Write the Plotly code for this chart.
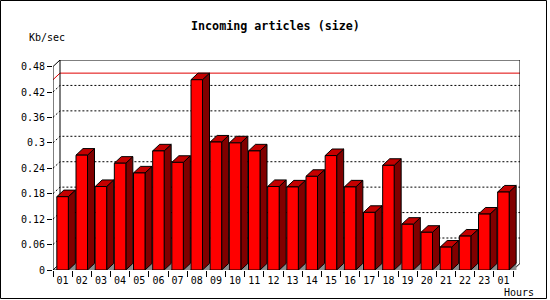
import plotly.graph_objects as go

# ---- data ----
hours = ["01", "02", "03", "04", "05", "06", "07", "08", "09", "10", "11", "12",
         "13", "14", "15", "16", "17", "18", "19", "20", "21", "22", "23", "01"]
kb_per_sec = [0.173, 0.271, 0.197, 0.252, 0.229, 0.281, 0.254, 0.449, 0.302, 0.300, 0.281, 0.197,
              0.196, 0.221, 0.270, 0.196, 0.136, 0.247, 0.108, 0.089, 0.054, 0.080, 0.132, 0.184]
y_ticks = [0, 0.06, 0.12, 0.18, 0.24, 0.3, 0.36, 0.42, 0.48]
y_tick_text = ["0", "0.06", "0.12", "0.18", "0.24", "0.3", "0.36", "0.42", "0.48"]
title_text = "Incoming articles (size)"
y_label = "Kb/sec"
x_label = "Hours"

# ---- geometry (3D depth in data units) ----
N = len(hours)
YMAX = 0.48
DX = 0.365      # depth offset along x (categories)
DY = 0.0155     # depth offset along y (values)
B0, B1 = 0.2, 0.8   # front face extent within category

W, H = 550, 300
ML, MR, MT, MB = 53, 30, 60, 30
PW, PH = W - ML - MR, H - MT - MB


def px_x(p):
    return (p - ML) / PW


def px_y(p):
    return (H - MB - p) / PH


FONT = "DejaVu Sans Mono"
traces = []

# back wall dotted grid lines + left wall diagonals
gx, gy = [], []
for v in y_ticks[1:-1]:
    gx += [0, DX, N + DX, None]
    gy += [v, v + DY, v + DY, None]
traces.append(go.Scatter(x=gx, y=gy, mode="lines",
                         line=dict(color="black", width=1, dash="2px,2px"),
                         hoverinfo="skip", showlegend=False))

# max line (red)
vmax = max(kb_per_sec)
traces.append(go.Scatter(x=[0, DX, N + DX], y=[vmax, vmax + DY, vmax + DY], mode="lines",
                         line=dict(color="#e00000", width=1),
                         hoverinfo="skip", showlegend=False))

# frame
fx = [0, 0, None,
      0, DX, N + DX, N + DX, None,
      DX, DX, None,
      0, DX, None,
      0, N, N + DX]
fy = [0, YMAX, None,
      YMAX, YMAX + DY, YMAX + DY, DY, None,
      DY, YMAX + DY, None,
      0, DY, None,
      0, 0, DY]
traces.append(go.Scatter(x=fx, y=fy, mode="lines",
                         line=dict(color="black", width=1),
                         hoverinfo="skip", showlegend=False))

# bar faces
sh_x, sh_y, sd_x, sd_y, tp_x, tp_y, fr_x, fr_y = [], [], [], [], [], [], [], []
for i, v in enumerate(kb_per_sec):
    x1, x2 = i + B0, i + B1
    sh_x += [x2, x2 + DX, x2 + DX, x2, None]
    sh_y += [0, DY, 0, 0, None]
    sd_x += [x2, x2, x2 + DX, x2 + DX, x2, None]
    sd_y += [0, v, v + DY, DY, 0, None]
    tp_x += [x1, x1 + DX, x2 + DX, x2, x1, None]
    tp_y += [v, v + DY, v + DY, v, v, None]
    fr_x += [x1, x1, x2, x2, x1, None]
    fr_y += [0, v, v, 0, 0, None]

traces.append(go.Scatter(x=sh_x, y=sh_y, mode="lines", fill="toself",
                         fillcolor="#8c8c8c", line=dict(color="#8c8c8c", width=0.5),
                         hoverinfo="skip", showlegend=False))
for xs, ys, col in [(sd_x, sd_y, "#800000"), (tp_x, tp_y, "#c40000"), (fr_x, fr_y, "#ff0000")]:
    traces.append(go.Scatter(x=xs, y=ys, mode="lines", fill="toself",
                             fillcolor=col, line=dict(color="black", width=1),
                             hoverinfo="skip", showlegend=False))

fig = go.Figure(traces)

fig.update_layout(
    width=W, height=H,
    margin=dict(l=ML, r=MR, t=MT, b=MB, pad=0),
    paper_bgcolor="white", plot_bgcolor="white",
    font=dict(family=FONT, size=10, color="black"),
    xaxis=dict(range=[0, N + DX], showgrid=False, zeroline=False, showline=False,
               tickmode="array", tickvals=list(range(N + 1)),
               ticktext=[""] * (N + 1), ticks="outside", ticklen=6,
               tickcolor="black", tickwidth=1, fixedrange=True),
    xaxis2=dict(range=[0, N + DX], overlaying="x", anchor="y", side="bottom",
                showgrid=False, zeroline=False, showline=False,
                tickmode="array", tickvals=[i + 0.5 for i in range(N)],
                ticktext=hours, ticks="", ticklabelstandoff=3,
                tickfont=dict(family=FONT, size=10, color="black")),
    yaxis=dict(range=[0, YMAX + DY], showgrid=False, zeroline=False, showline=False,
               tickmode="array", tickvals=y_ticks, ticktext=y_tick_text,
               ticks="outside", ticklen=5, tickcolor="black", tickwidth=1,
               tickfont=dict(family=FONT, size=10, color="black")),
    annotations=[
        dict(text="<b>" + title_text + "</b>", xref="paper", yref="paper",
             x=px_x(275.5), y=px_y(26.5), xanchor="center", yanchor="middle",
             showarrow=False, font=dict(family=FONT, size=11.7, color="black")),
        dict(text=y_label, xref="paper", yref="paper",
             x=px_x(47), y=px_y(37.5), xanchor="center", yanchor="middle",
             showarrow=False, font=dict(family=FONT, size=10, color="black")),
        dict(text=x_label, xref="paper", yref="paper",
             x=px_x(519), y=px_y(292), xanchor="center", yanchor="middle",
             showarrow=False, font=dict(family=FONT, size=10, color="black")),
    ],
    shapes=[
        dict(type="rect", xref="paper", yref="paper",
             x0=px_x(0.5), x1=px_x(546.5), y0=px_y(298.5), y1=px_y(0.5),
             line=dict(color="black", width=1), fillcolor="rgba(0,0,0,0)", layer="below"),
    ],
)
# assign tick-label axis to one trace so xaxis2 is rendered
fig.add_trace(go.Scatter(x=[0.5], y=[0], xaxis="x2", mode="markers",
                         marker=dict(opacity=0), hoverinfo="skip", showlegend=False))

fig.write_html("out.html")
